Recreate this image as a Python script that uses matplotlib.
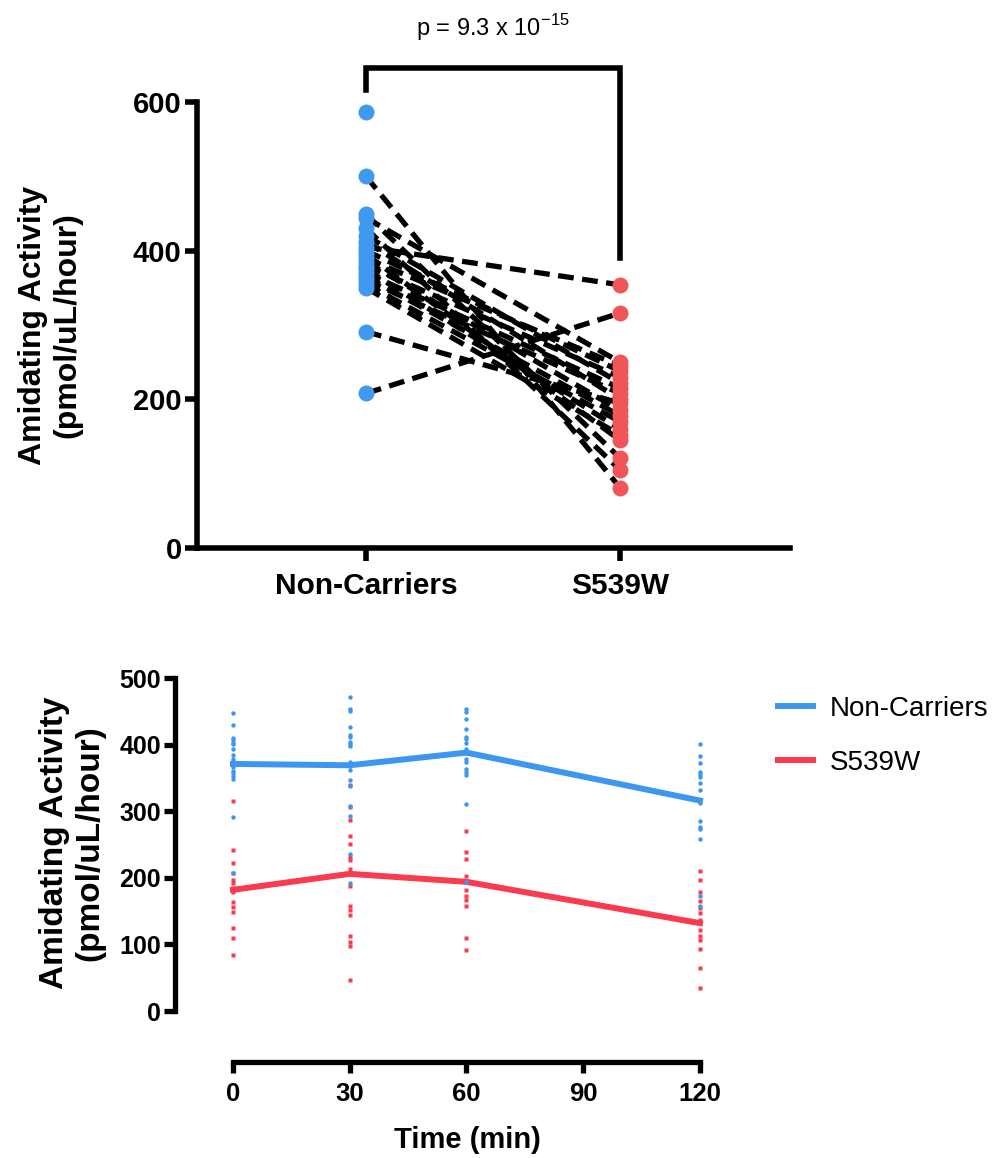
import numpy as np
import matplotlib
matplotlib.use("Agg")
import matplotlib.pyplot as plt

plt.rcParams['font.family'] = ['Liberation Sans', 'DejaVu Sans']
plt.rcParams['mathtext.fontset'] = 'custom'
plt.rcParams['mathtext.rm'] = 'Liberation Sans'

# ---- top panel: paired values (t = 0) ----
groups = ['Non-Carriers', 'S539W']
non_carriers = [587, 500, 449, 444, 430, 420, 412, 405, 400, 395, 390,
                385, 380, 375, 370, 365, 360, 355, 350, 291, 208]
s539w = [np.nan, 81, 121, 250, 105, 222, 200, 354, 238, 145, 245,
         185, 230, 160, 215, 178, 208, 170, 152, 195, 316]
p_text = 'p = 9.3 x 10$^{-15}$'

# ---- bottom panel: time course ----
times = [0, 30, 60, 120]
nc_mean = [371, 369, 388, 316]
sw_mean = [182, 206, 194, 132]
nc_points = {
    0: [448, 429, 410, 407, 403, 401, 393, 384, 378, 374, 370, 367, 360, 357, 353, 348, 292, 208],
    30: [471, 454, 451, 426, 414, 412, 404, 401, 398, 374, 368, 362, 347, 338, 308, 293, 236, 192],
    60: [453, 449, 439, 424, 411, 408, 403, 393, 387, 379, 374, 363, 359, 354, 311, 193],
    120: [401, 383, 373, 359, 356, 352, 343, 332, 313, 286, 277, 273, 258, 172, 157],
}
sw_points = {
    0: [316, 242, 223, 208, 197, 192, 184, 179, 163, 156, 149, 124, 109, 84],
    30: [339, 307, 287, 263, 251, 232, 227, 213, 207, 188, 158, 152, 144, 113, 104, 98, 46],
    60: [271, 239, 228, 203, 194, 181, 173, 166, 158, 109, 91],
    120: [211, 197, 179, 165, 154, 147, 137, 122, 113, 107, 93, 65, 34],
}

blue_top = '#3F99EE'
red_top = '#F05558'
blue = '#3D96F0'
red = '#FA3A4E'

fig = plt.figure(figsize=(9.97, 11.58), dpi=100)

# ================= top panel =================
ax = fig.add_axes([0.1976, 0.5268, 0.5948, 0.3851])
for a, b in zip(non_carriers, s539w):
    if not np.isnan(b):
        ax.plot([0, 1], [a, b], color='black', lw=3.8, ls=(0, (3.0, 1.6)),
                dash_capstyle='butt', zorder=2)
ax.plot(np.zeros(len(non_carriers)), non_carriers, 'o', ms=11.5,
        color=blue_top, mec='none', zorder=3)
ax.plot(np.ones(len(s539w)), s539w, 'o', ms=11.5,
        color=red_top, mec='none', zorder=3)

# significance bracket
ax.plot([0, 0, 1, 1], [616, 646, 646, 390], color='black', lw=4,
        clip_on=False, solid_joinstyle='miter', zorder=4)
ax.text(0.5, 700, p_text, ha='center', va='center', fontsize=17)

ax.set_xlim(-0.665, 1.669)
ax.set_ylim(0, 600)
ax.set_xticks([0, 1])
ax.set_xticklabels(groups)
ax.set_yticks([0, 200, 400, 600])
for s in ['top', 'right']:
    ax.spines[s].set_visible(False)
for s in ['left', 'bottom']:
    ax.spines[s].set_linewidth(4)
ax.tick_params(width=4, length=9)
ax.tick_params(axis='y', pad=2, labelsize=21)
ax.tick_params(axis='x', pad=8, labelsize=21.5)
for lab in ax.get_xticklabels() + ax.get_yticklabels():
    lab.set_fontweight('bold')
fig.text(50 / 997, 1 - 325 / 1158, 'Amidating Activity\n(pmol/uL/hour)',
         rotation=90, ha='center', va='center', fontsize=23,
         fontweight='bold', linespacing=1.2)

# ================= bottom panel =================
ax2 = fig.add_axes([0.1755, 0.1269, 0.5461, 0.2876])
for t in times:
    ax2.plot(np.full(len(sw_points[t]), t), sw_points[t], 's', ms=3.2,
             color=red, mec='none', zorder=2)
ax2.plot(times, sw_mean, color=red, lw=4.3, label='S539W', zorder=3)
for t in times:
    ax2.plot(np.full(len(nc_points[t]), t), nc_points[t], 'o', ms=3.2,
             color=blue, mec='none', zorder=4)
ax2.plot(times, nc_mean, color=blue, lw=4.3, label='Non-Carriers', zorder=5)

ax2.set_xlim(-14.9, 125)
ax2.set_ylim(0, 500)
ax2.set_xticks([0, 30, 60, 90, 120])
ax2.set_yticks([0, 100, 200, 300, 400, 500])
for s in ['top', 'right']:
    ax2.spines[s].set_visible(False)
ax2.spines['left'].set_linewidth(3.8)
ax2.spines['bottom'].set_linewidth(3.8)
ax2.spines['bottom'].set_position(('outward', 37))
ax2.spines['bottom'].set_bounds(0, 120)
ax2.tick_params(width=3.8, length=8)
ax2.tick_params(axis='y', labelsize=18, pad=2)
ax2.tick_params(axis='x', labelsize=18.5, pad=6)
for lab in ax2.get_yticklabels() + ax2.get_xticklabels():
    lab.set_fontweight('bold')
fig.text(72 / 997, 1 - 843 / 1158, 'Amidating Activity\n(pmol/uL/hour)',
         rotation=90, ha='center', va='center', fontsize=24,
         fontweight='bold', linespacing=1.2)
fig.text(467 / 997, 1 - 1140 / 1158, 'Time (min)', ha='center', va='center',
         fontsize=21, fontweight='bold')

h, l = ax2.get_legend_handles_labels()
fig.legend(h[::-1], l[::-1], loc='upper left',
           bbox_to_anchor=(753 / 997, 1 - 671 / 1158),
           frameon=False, fontsize=20, handlelength=1.25, handletextpad=0.6,
           labelspacing=1.0)

fig.savefig('out.png', dpi=100)
